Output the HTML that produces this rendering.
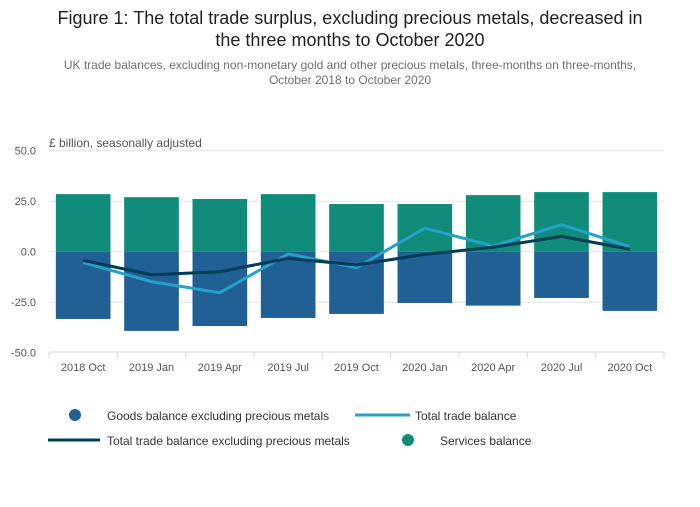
<!DOCTYPE html>
<html><head><meta charset="utf-8"><style>
body{margin:0;background:#fff;font-family:"Liberation Sans",sans-serif;}
svg text{font-family:"Liberation Sans",sans-serif;}
</style></head><body>
<svg width="700" height="502" xmlns="http://www.w3.org/2000/svg">
<text x="350" y="24" text-anchor="middle" font-size="18" fill="#222">Figure 1: The total trade surplus, excluding precious metals, decreased in</text>
<text x="350" y="46" text-anchor="middle" font-size="18" fill="#222">the three months to October 2020</text>
<text x="350" y="69" text-anchor="middle" font-size="12" fill="#707070">UK trade balances, excluding non-monetary gold and other precious metals, three-months on three-months,</text>
<text x="350" y="84" text-anchor="middle" font-size="12" fill="#707070">October 2018 to October 2020</text>
<text x="49" y="147" font-size="12" fill="#555">£ billion, seasonally adjusted</text>
<g id="grid"></g><g id="bars"></g><g id="lines"></g><g id="axis"></g>
<g>
<circle cx="75" cy="415" r="6" fill="#206095"/>
<text x="107" y="420" font-size="12" fill="#333">Goods balance excluding precious metals</text>
<line x1="355" y1="415" x2="410" y2="415" stroke="#27a0cc" stroke-width="3"/>
<text x="415" y="420" font-size="12" fill="#333">Total trade balance</text>
<line x1="48" y1="440" x2="100" y2="440" stroke="#003c57" stroke-width="3"/>
<text x="107" y="445" font-size="12" fill="#333">Total trade balance excluding precious metals</text>
<circle cx="408" cy="440" r="6" fill="#118c7b"/>
<text x="440" y="445" font-size="12" fill="#333">Services balance</text>
</g>
</svg>
<script>
const categories=["2018 Oct","2019 Jan","2019 Apr","2019 Jul","2019 Oct","2020 Jan","2020 Apr","2020 Jul","2020 Oct"];
const goods=[-33.3,-39.2,-36.8,-32.8,-30.8,-25.4,-26.7,-22.9,-29.3];
const services=[28.5,27.0,26.1,28.5,23.6,23.6,28.0,29.5,29.5];
const totalTrade=[-5.4,-14.8,-20.3,-1.1,-7.9,11.7,2.8,13.4,2.5];
const totalExcl=[-4.3,-11.4,-9.9,-3.3,-6.6,-1.3,2.2,7.6,1.2];
const yTicks=[50,25,0,-25,-50];
const yTickLabels=["50.0","25.0","0.0","-25.0","-50.0"];
const NS="http://www.w3.org/2000/svg";
const x0=49,x1=664,band=(x1-x0)/categories.length;
const y=v=>251.7-v*2.02;
const xc=i=>x0+band*(i+0.5);
function mk(tag,attrs,parent){const e=document.createElementNS(NS,tag);for(const k in attrs)e.setAttribute(k,attrs[k]);document.getElementById(parent).appendChild(e);return e;}
yTicks.forEach((t,i)=>{
 if(t>-50){const l=mk('line',{x1:x0,x2:x1,y1:y(t),y2:y(t),stroke:'#e2e2e2','stroke-width':1},'grid');
 
 }
 const tx=mk('text',{x:36,y:y(t)+4,'text-anchor':'end','font-size':11,fill:'#555'},'axis');tx.textContent=yTickLabels[i];
 
 
});
const bw=band*0.8;
categories.forEach((c,i)=>{
 const s=mk('rect',{x:xc(i)-bw/2,y:y(services[i]),width:bw,height:y(0)-y(services[i]),fill:'#118c7b'},'bars');
 
 
 const g=mk('rect',{x:xc(i)-bw/2,y:y(0),width:bw,height:y(goods[i])-y(0),fill:'#206095'},'bars');
 
 
 const tl=mk('text',{x:xc(i),y:371,'text-anchor':'middle','font-size':11,fill:'#555'},'axis');tl.textContent=c;
 
 
});
for(let i=0;i<=categories.length;i++){const t=mk('line',{x1:x0+band*i,x2:x0+band*i,y1:352,y2:358,stroke:'#ccd6e6'},'axis');
 
 }
const ax=mk('line',{x1:x0,x2:x1,y1:352,y2:352,stroke:'#ccd6e6'},'axis');


const l1=mk('polyline',{points:totalTrade.map((v,i)=>xc(i)+','+y(v)).join(' '),fill:'none',stroke:'#27a0cc','stroke-width':3},'lines');


const l2=mk('polyline',{points:totalExcl.map((v,i)=>xc(i)+','+y(v)).join(' '),fill:'none',stroke:'#003c57','stroke-width':3},'lines');


</script>
</body></html>
